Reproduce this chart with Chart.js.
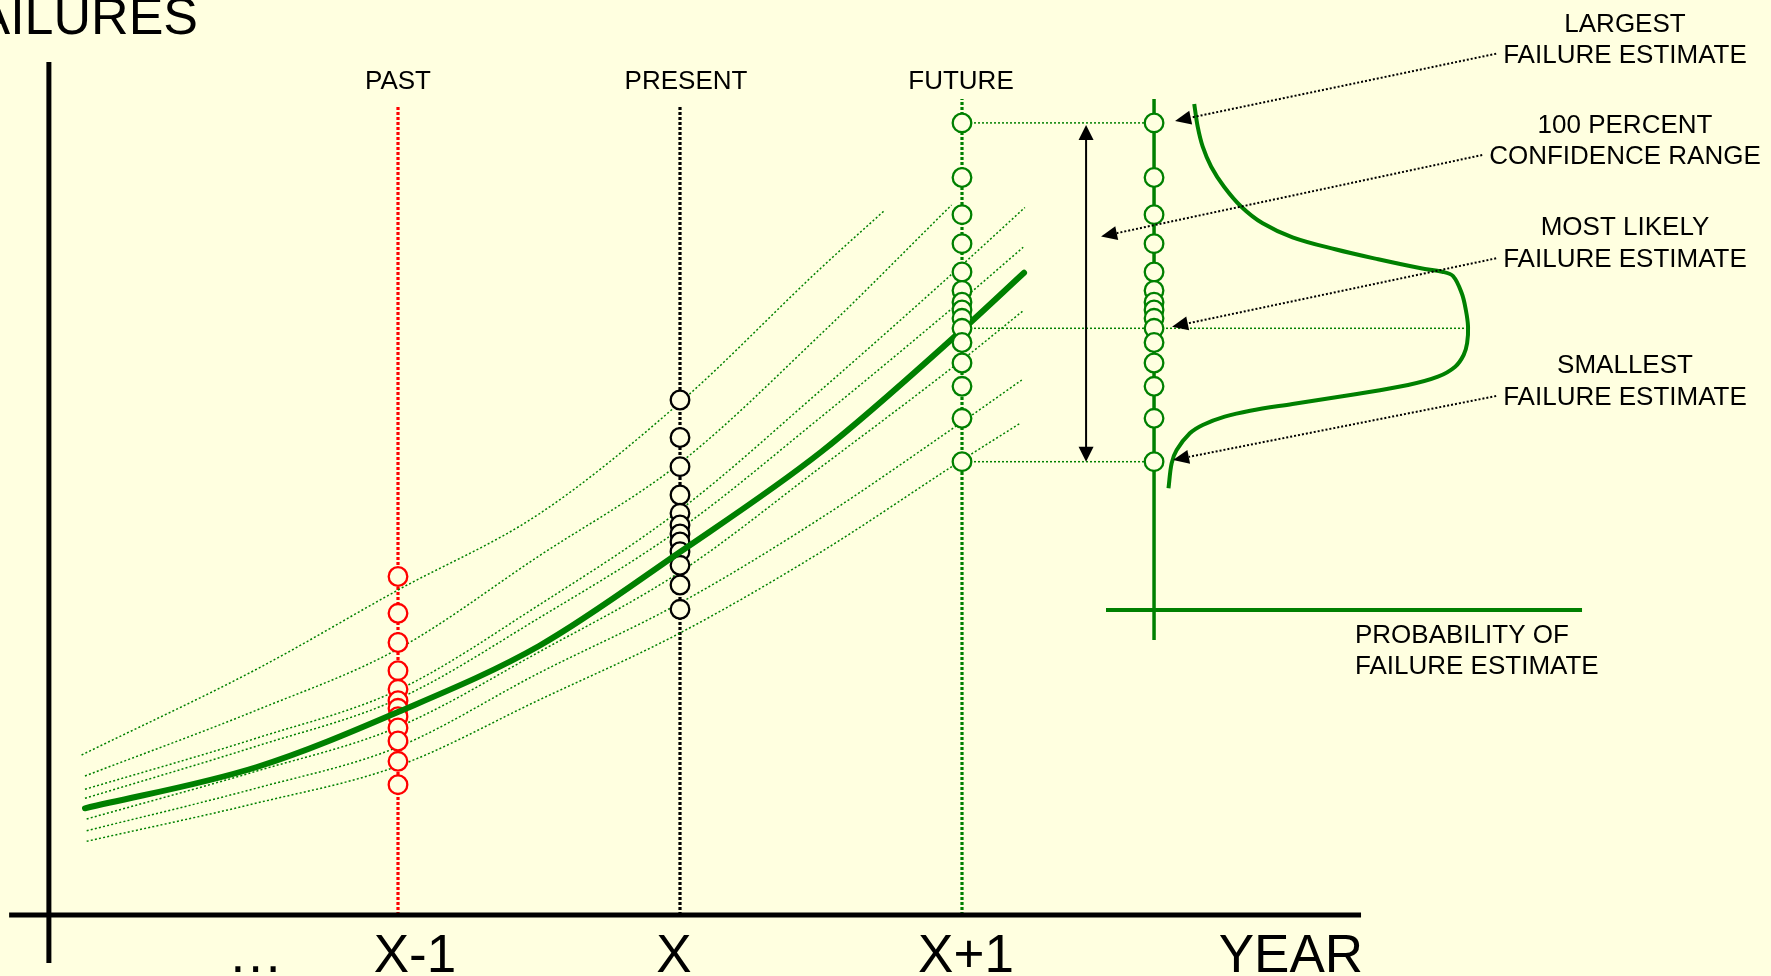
<!DOCTYPE html>
<html><head><meta charset="utf-8">
<script src="https://cdn.jsdelivr.net/npm/chart.js@4/dist/chart.umd.min.js"></script>
<style>html,body{margin:0;padding:0;background:#FFFFE0;overflow:hidden}canvas{display:block}</style>
</head><body>
<canvas id="c" width="1771" height="976"></canvas>
<script>
// ---------------- data ----------------
const columnYears = [1, 2, 3];
const columnLabels = ['PAST', 'PRESENT', 'FUTURE'];
const columnTops = [161.8, 161.8, 163.2];
const xTickLabels = ['...', 'X-1', 'X', 'X+1'];
const xTickYears = [0.5, 1, 2, 3];
const xAxisTitle = 'YEAR';
const yAxisTitle = 'FAILURES';

const pastFailures = [67.7, 60.34, 54.5, 48.86, 45.14, 42.86, 41.34, 39.66, 37.4, 34.8, 30.74, 26.06];
const presentFailures = [103, 95.5, 89.66, 84, 80.34, 78, 76.2, 74.6, 72.66, 69.94, 66, 61.14];
const futureFailures = [158.42, 147.5, 140.06, 134.26, 128.6, 124.9, 122.56, 121, 119.34, 117.34, 114.5, 110.4, 105.74, 99.34, 90.66];
const mostLikelyFailure = 117.34;

const trendYears = [-0.11, 0.5, 1, 1.5, 2, 2.5, 3, 3.22];
const trendFailures = [21.34, 29.6, 40.6, 53.8, 72.6, 92.6, 117, 128.46];

const scenario1Years = [-0.122, 0.5, 1, 1.5, 2, 2.5, 2.727];
const scenario1Failures = [32, 49.2, 65, 80.2, 102.5, 129.4, 141];
const scenario2Years = [-0.11, 0.5, 1, 1.5, 2, 2.5, 2.963];
const scenario2Failures = [27.8, 41, 53.2, 71.8, 90.4, 116.2, 142];
const scenario3Years = [-0.11, 0.5, 1, 1.5, 2, 2.5, 3, 3.223];
const scenario3Failures = [25.14, 35.4, 45, 62, 81, 105, 130, 141.5];
const scenario4Years = [-0.11, 0.5, 1, 1.5, 2, 2.5, 3, 3.217];
const scenario4Failures = [23.34, 33.8, 43.2, 59.4, 77.2, 99.6, 123, 133.54];
const scenario5Years = [-0.104, 0.5, 1, 1.5, 2, 2.5, 3, 3.217];
const scenario5Failures = [19.2, 28.8, 37.6, 52.6, 68.6, 89.6, 111, 120.86];
const scenario6Years = [-0.104, 0.5, 1, 1.5, 2, 2.5, 3, 3.212];
const scenario6Failures = [16.86, 25.4, 33.6, 48.4, 62.4, 79.4, 98.6, 107];
const scenario7Years = [-0.104, 0.5, 1, 1.5, 2, 2.5, 3, 3.206];
const scenario7Failures = [14.74, 22.4, 29.8, 43, 56.4, 72.6, 91, 98.34];

const bellProb = [12.8, 13.9, 15.5, 18.2, 22.3, 27.8, 34.6, 44.1, 57.7, 71.4, 85, 91.8, 95.2, 98, 99.3, 100,
                  99.7, 98.6, 95.9, 90.4, 80.9, 64.6, 44.1, 30.6, 22.5, 15.5, 11.4, 7.2, 5.6, 4.6];
const bellFailures = [162.2, 157.66, 153.66, 149.66, 145.66, 141.66, 138.34, 135.54, 133.14, 131.14, 129.34, 128.66, 127.8, 124.34, 121, 117.66,
                      114.34, 112, 109.66, 107.66, 106, 104.2, 102.2, 100.86, 99.66, 98, 96.34, 93, 90.34, 85.34];

const noteLines = [['LARGEST', 'FAILURE ESTIMATE'], ['100 PERCENT', 'CONFIDENCE RANGE'], ['MOST LIKELY', 'FAILURE ESTIMATE'], ['SMALLEST', 'FAILURE ESTIMATE']];
const probLabel = ['PROBABILITY OF', 'FAILURE ESTIMATE'];

// ---------------- layout (not data) ----------------
const W = 1771, H = 976;
const xMin = -0.41135, xMax = 5.86879;   // year scale
const yMin = -12.2, yMax = 183;          // failures scale
const panelYear = 3.681;                 // where the probability panel's axis stands
const rangeArrowYear = 3.44;
const probPxPerUnit = 3.14;
const panelPx = (panelYear - xMin) / (xMax - xMin) * W;
const xpMin = -panelPx / probPxPerUnit, xpMax = (W - panelPx) / probPxPerUnit;
const panelAxisFailures = [55, 163.2];
const panelBaseFailure = 61, panelBaseProb = [-15.3, 136.3];
const axisX = {from: -0.379, to: 4.415};
const axisY = {at: -0.238, from: -9.6, to: 170.6};

const BG = '#FFFFE0', GREEN = '#008000', RED = '#FF0000', BLACK = '#000000';
const FONT = '"Liberation Sans", Arial, sans-serif';

const pts = (xs, ys) => xs.map((x, i) => ({x, y: ys[i]}));
const col = (yr, vals) => vals.map(v => ({x: yr, y: v}));

function circles(data, color, order) {
  return {data, showLine: false, pointRadius: 9.3, pointBorderWidth: 2.3, pointBorderColor: color,
          pointBackgroundColor: BG, pointStyle: 'circle', order};
}
function curve(data, color, width, dash, order, extra) {
  return Object.assign({data, showLine: true, borderColor: color, borderWidth: width, borderDash: dash,
          pointRadius: 0, fill: false, order, borderCapStyle: 'butt'}, extra || {});
}

const scenarios = [
  [scenario1Years, scenario1Failures], [scenario2Years, scenario2Failures], [scenario3Years, scenario3Failures],
  [scenario4Years, scenario4Failures], [scenario5Years, scenario5Failures], [scenario6Years, scenario6Failures],
  [scenario7Years, scenario7Failures]
];
const fMax = Math.max(...futureFailures), fMin = Math.min(...futureFailures);

const datasets = [
  circles(col(columnYears[2], futureFailures), GREEN, 1),
  circles(col(panelYear, futureFailures), GREEN, 1),
  curve(pts(trendYears, trendFailures), GREEN, 6, [], 2, {cubicInterpolationMode: 'monotone', borderCapStyle: 'round'}),
  curve(pts(bellProb, bellFailures), GREEN, 4, [], 2, {xAxisID: 'xp', tension: 0.35}),
  circles(col(columnYears[0], pastFailures), RED, 3),
  circles(col(columnYears[1], presentFailures), BLACK, 3),
  ...scenarios.map(s => curve(pts(s[0], s[1]), GREEN, 1.5, [2, 2.2], 4, {cubicInterpolationMode: 'monotone'})),
  curve([{x: columnYears[2], y: fMax}, {x: panelYear, y: fMax}], GREEN, 1.5, [2, 2], 5),
  curve([{x: columnYears[2], y: fMin}, {x: panelYear, y: fMin}], GREEN, 1.5, [2, 2], 5),
  curve([{x: panelYear, y: panelAxisFailures[0]}, {x: panelYear, y: panelAxisFailures[1]}], GREEN, 3.5, [], 5),
  curve([{x: panelBaseProb[0], y: panelBaseFailure}, {x: panelBaseProb[1], y: panelBaseFailure}], GREEN, 4, [], 5, {xAxisID: 'xp'}),
  curve([{x: columnYears[0], y: 0}, {x: columnYears[0], y: columnTops[0]}], RED, 3.2, [3, 2], 6),
  curve([{x: columnYears[1], y: 0}, {x: columnYears[1], y: columnTops[1]}], BLACK, 3.2, [3, 2], 6),
  curve([{x: columnYears[2], y: 0}, {x: columnYears[2], y: columnTops[2]}], GREEN, 3.2, [3, 2], 6)
];

function arrowHead(ctx, tx, ty, fx, fy, len, half) {
  const a = Math.atan2(ty - fy, tx - fx), c = Math.cos(a), s = Math.sin(a);
  ctx.beginPath();
  ctx.moveTo(tx, ty);
  ctx.lineTo(tx - len * c + half * s, ty - len * s - half * c);
  ctx.lineTo(tx - len * c - half * s, ty - len * s + half * c);
  ctx.closePath();
  ctx.fill();
}
function seg(ctx, x1, y1, x2, y2) { ctx.beginPath(); ctx.moveTo(x1, y1); ctx.lineTo(x2, y2); ctx.stroke(); }

const overlay = {
  id: 'overlay',
  beforeDatasetsDraw(chart) {
    const ctx = chart.ctx, X = chart.scales.x, Y = chart.scales.y, P = chart.scales.xp;
    ctx.save();
    ctx.strokeStyle = GREEN; ctx.lineWidth = 1.5; ctx.setLineDash([2, 2]);
    const yy = Y.getPixelForValue(mostLikelyFailure);
    seg(ctx, X.getPixelForValue(columnYears[2]), yy, P.getPixelForValue(Math.max(...bellProb)), yy);
    ctx.restore();
  },
  afterDatasetsDraw(chart) {
    const ctx = chart.ctx, X = chart.scales.x, Y = chart.scales.y, P = chart.scales.xp;
    ctx.save();
    // main axes
    ctx.strokeStyle = BLACK; ctx.lineWidth = 5; ctx.setLineDash([]);
    seg(ctx, X.getPixelForValue(axisX.from), Y.getPixelForValue(0), X.getPixelForValue(axisX.to), Y.getPixelForValue(0));
    seg(ctx, X.getPixelForValue(axisY.at), Y.getPixelForValue(axisY.from), X.getPixelForValue(axisY.at), Y.getPixelForValue(axisY.to));

    ctx.fillStyle = BLACK;
    // axis titles
    ctx.font = '52px ' + FONT; ctx.textAlign = 'right'; ctx.textBaseline = 'alphabetic';
    ctx.fillText(yAxisTitle, 198, 34);
    ctx.font = '53px ' + FONT;
    ctx.fillText(xAxisTitle, X.getPixelForValue(axisX.to) + 2, 972);
    // tick labels
    const nudges = [0, 17, -6, 4];
    ctx.textAlign = 'center';
    xTickLabels.forEach((t, i) => {
      ctx.save();
      if (t === '...') ctx.letterSpacing = '3px';
      ctx.fillText(t, X.getPixelForValue(xTickYears[i]) + nudges[i], 972);
      ctx.restore();
    });
    // column labels
    ctx.font = '26px ' + FONT;
    const cn = [0, 6, -1];
    columnLabels.forEach((t, i) => ctx.fillText(t, X.getPixelForValue(columnYears[i]) + cn[i], 89));

    // range double arrow
    const ax = X.getPixelForValue(rangeArrowYear);
    const top = Y.getPixelForValue(fMax) + 2, bot = Y.getPixelForValue(fMin);
    ctx.lineWidth = 2;
    seg(ctx, ax, top + 12, ax, bot - 12);
    arrowHead(ctx, ax, top, ax, bot, 15, 7.5);
    arrowHead(ctx, ax, bot, ax, top, 15, 7.5);

    // notes
    const noteX = 1625;
    const baselines = [[31.7, 62.7], [132.7, 164], [235, 267.3], [373.3, 405]];
    const pp = X.getPixelForValue(panelYear);
    const tips = [
      [pp + 21, Y.getPixelForValue(fMax) - 2],
      [ax + 15, Y.getPixelForValue(135.7)],
      [pp + 18, Y.getPixelForValue(mostLikelyFailure) - 1.6],
      [pp + 19, Y.getPixelForValue(fMin) - 1.7]
    ];
    ctx.font = '26px ' + FONT; ctx.textAlign = 'center';
    noteLines.forEach((lines, i) => {
      lines.forEach((t, j) => ctx.fillText(t, noteX, baselines[i][j]));
      const w = ctx.measureText(lines[1]).width;
      const sx = noteX - w / 2 - 7, sy = baselines[i][1] - 9;
      const [tx, ty] = tips[i];
      const a = Math.atan2(ty - sy, tx - sx);
      const len = 16;
      ctx.save();
      ctx.strokeStyle = BLACK; ctx.lineWidth = 2; ctx.setLineDash([2, 2]);
      seg(ctx, sx, sy, tx - len * Math.cos(a), ty - len * Math.sin(a));
      ctx.restore();
      arrowHead(ctx, tx, ty, sx, sy, len, 7);
    });

    // probability label
    ctx.textAlign = 'left';
    ctx.fillText(probLabel[0], 1355, 642.7);
    ctx.fillText(probLabel[1], 1355, 674);
    ctx.restore();
  }
};

new Chart(document.getElementById('c'), {
  type: 'scatter',
  data: {datasets},
  options: {
    responsive: false, animation: false, devicePixelRatio: 1, events: [],
    layout: {padding: 0, autoPadding: false},
    plugins: {legend: {display: false}, tooltip: {enabled: false}},
    scales: {
      x: {type: 'linear', min: xMin, max: xMax, display: false},
      xp: {type: 'linear', axis: 'x', min: xpMin, max: xpMax, display: false},
      y: {type: 'linear', min: yMin, max: yMax, display: false}
    }
  },
  plugins: [overlay]
});
</script>
</body></html>
